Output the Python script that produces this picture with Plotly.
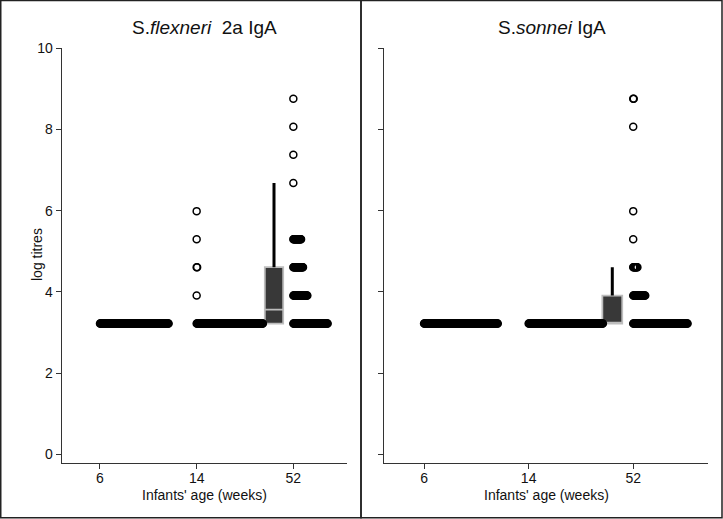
import numpy as np
import plotly.graph_objects as go

# ---- data ----
levels = [3.22, 3.91, 4.61, 5.30, 5.99, 6.68, 7.38, 8.07, 8.76]   # log titres
week_labels = ["6", "14", "52"]
week_pos = [1, 2, 3]

# number of infants at each titre level
flex_6 = [143, 0, 0, 0, 0, 0, 0, 0, 0]
flex_14 = [138, 1, 2, 1, 1, 0, 0, 0, 0]
flex_52 = [72, 30, 21, 17, 0, 1, 1, 1, 1]
sonn_6 = [142, 0, 0, 0, 0, 0, 0, 0, 0]
sonn_14 = [143, 0, 0, 0, 0, 0, 0, 0, 0]
sonn_52 = [105, 24, 9, 1, 1, 0, 0, 1, 2]

panel_titles = ["S.<i>flexneri</i>&nbsp; 2a IgA", "S.<i>sonnei</i> IgA"]
x_title = "Infants' age (weeks)"
y_title = "log titres"
y_ticks = [0, 2, 4, 6, 8, 10]

STEP = 0.005      # stacking offset between identical values
BOX_OFF = -0.2    # box drawn left of the strip
BOX_W = 0.19

W, H = 723, 519
FONT = "Liberation Sans, Arial, Helvetica, sans-serif"

fig = go.Figure()


def expand(counts):
    vals = []
    for lv, c in zip(levels, counts):
        vals += [lv] * c
    return np.array(vals)


def add_panel(groups, xa, ya):
    # strips (stacked dots)
    for pos, counts in zip(week_pos, groups):
        xs, ys = [], []
        for lv, c in zip(levels, counts):
            for k in range(c):
                xs.append(pos + k * STEP)
                ys.append(lv)
        fig.add_trace(go.Scatter(
            x=xs, y=ys, mode="markers", xaxis=xa, yaxis=ya,
            marker=dict(symbol="circle-open", size=7, color="black",
                        line=dict(width=1.5, color="black")),
            showlegend=False, hoverinfo="skip"))
    # box for the last time point
    vals = expand(groups[2])
    q1, med, q3 = np.percentile(vals, [25, 50, 75])
    iqr = q3 - q1
    uf = vals[vals <= q3 + 1.5 * iqr].max()
    lf = vals[vals >= q1 - 1.5 * iqr].min()
    bx = week_pos[2] + BOX_OFF
    fig.add_trace(go.Scatter(
        x=[bx, bx], y=[q3, uf], mode="lines", xaxis=xa, yaxis=ya,
        line=dict(color="black", width=3), showlegend=False, hoverinfo="skip"))
    fig.add_trace(go.Box(
        x=[bx], q1=[q1], median=[med], q3=[q3], lowerfence=[lf], upperfence=[q3],
        width=BOX_W, xaxis=xa, yaxis=ya, fillcolor="#383838",
        line=dict(color="#bdbdbd", width=1.8), whiskerwidth=0,
        showlegend=False, hoverinfo="skip"))


add_panel([flex_6, flex_14, flex_52], "x", "y")
add_panel([sonn_6, sonn_14, sonn_52], "x2", "y2")

# pixel geometry
ybot, ytop = 463.3, 48.3
yd = [1 - ybot / H, 1 - ytop / H]
yr = [-0.22, 10]

axis_common = dict(showgrid=False, zeroline=False, showline=True, linecolor="#333",
                   linewidth=1.3, ticks="outside", ticklen=5, tickcolor="#333",
                   tickwidth=1.2, automargin=False,
                   tickfont=dict(family=FONT, size=14, color="#111"))

fig.update_layout(
    width=W, height=H, margin=dict(l=0, r=0, t=0, b=0),
    paper_bgcolor="white", plot_bgcolor="white", boxmode="overlay",
    font=dict(family=FONT, color="#111"),
    xaxis=dict(domain=[61.7 / W, 346.7 / W], range=[0.604, 3.552], anchor="y",
               tickvals=week_pos, ticktext=week_labels, ticklabelstandoff=-3,
               **axis_common),
    yaxis=dict(domain=yd, range=yr, anchor="x", tickvals=y_ticks,
               ticklabelstandoff=0, **axis_common),
    xaxis2=dict(domain=[384 / W, 708.3 / W], range=[0.617, 3.718], anchor="y2",
                tickvals=week_pos, ticktext=week_labels, ticklabelstandoff=-3,
                **axis_common),
    yaxis2=dict(domain=yd, range=yr, anchor="x2", tickvals=y_ticks,
                showticklabels=False, **axis_common),
)

# panel titles
for txt, xc in zip(panel_titles, [(61.7 + 346.7) / 2, 552]):
    fig.add_annotation(text=txt, x=xc / W, y=1 - 27 / H, xref="paper", yref="paper",
                       showarrow=False, xanchor="center", yanchor="middle",
                       font=dict(family=FONT, size=19, color="#111"))

# axis titles
for xc in [(61.7 + 346.7) / 2, (384 + 708.3) / 2]:
    fig.add_annotation(text=x_title, x=xc / W, y=1 - 495 / H, xref="paper", yref="paper",
                       showarrow=False, xanchor="center", yanchor="middle",
                       font=dict(family=FONT, size=14, color="#111"))
fig.add_annotation(text=y_title, x=37 / W, y=1 - 255 / H, xref="paper", yref="paper",
                   showarrow=False, xanchor="center", yanchor="middle", textangle=-90,
                   font=dict(family=FONT, size=14, color="#111"))

# panel frames
for x0, x1 in [(0.75, 361), (361, 722)]:
    fig.add_shape(type="rect", xref="paper", yref="paper",
                  x0=x0 / W, x1=x1 / W, y0=1 - 517.7 / H, y1=1 - 0.5 / H,
                  line=dict(color="#222", width=1.5), layer="above")

fig.write_html("out.html", config={"displayModeBar": False},
               post_script="document.body.style.margin='0';")
